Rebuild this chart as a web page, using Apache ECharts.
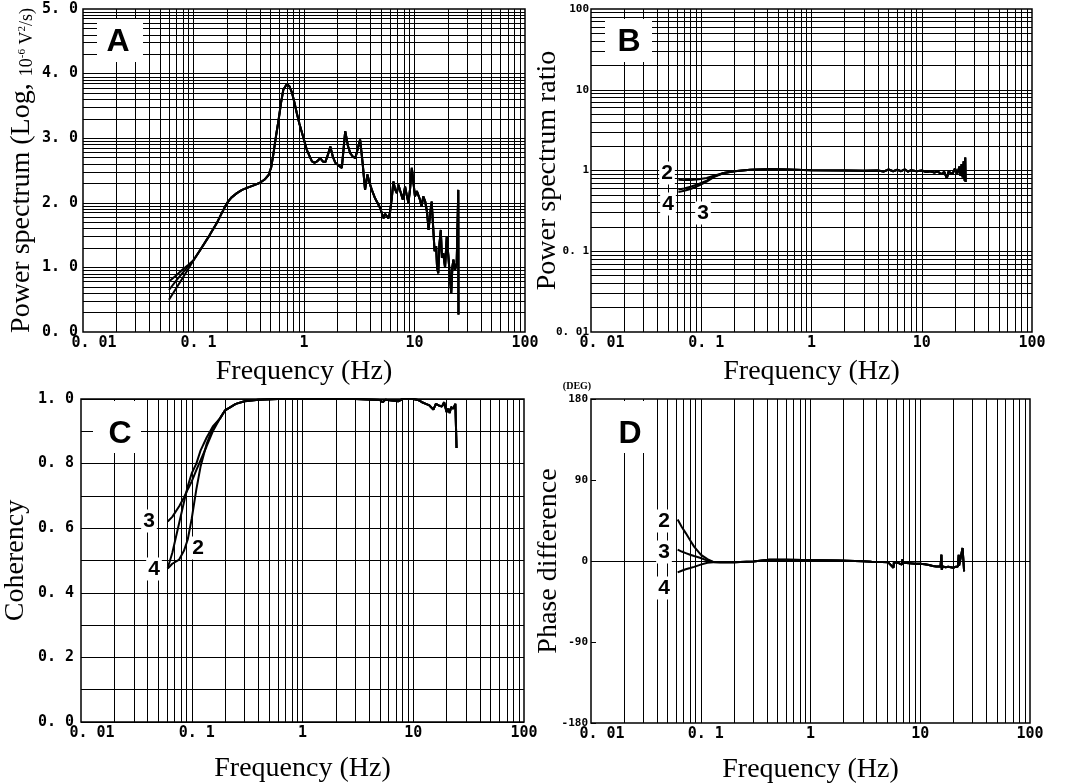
<!DOCTYPE html>
<html><head><meta charset="utf-8">
<script src="https://cdn.jsdelivr.net/npm/echarts@6/dist/echarts.min.js"></script>
<style>html,body{margin:0;padding:0;background:#fff}#c{width:1065px;height:784px}</style>
</head><body><div id="c"></div>
<script>
// ---------------- tick labels ----------------
const freqTickLabels = ['0. 01', '0. 1', '1', '10', '100'];
const aTickLabels = ['0. 0', '1. 0', '2. 0', '3. 0', '4. 0', '5. 0'];
const bTickLabels = ['0. 01', '0. 1', '1', '10', '100'];
const cTickLabels = ['0. 0', '0. 2', '0. 4', '0. 6', '0. 8', '1. 0'];
const dTickLabels = ['-180', '-90', '0', '90', '180'];
const curveNames = ['2', '3', '4'];

// ---------------- Panel A: power spectrum (log10 of 10^-6 V^2/s) ----------------
const aLowFreq = [0.06, 0.07, 0.08, 0.09, 0.1];
const aLowLine1 = [0.78, 0.88, 0.97, 1.04, 1.11];
const aLowLine2 = [0.65, 0.80, 0.92, 1.02, 1.11];
const aLowLine3 = [0.50, 0.68, 0.84, 0.98, 1.11];
const aFreq = [0.115,0.14,0.163,0.18,0.2,0.22,0.247,0.275,0.305,0.35,0.4,0.44,0.478,0.505,0.53,0.56,0.59,0.62,0.65,0.7,0.74,0.78,0.82,0.86,0.91,0.96,1.06,1.18,1.25,1.31,1.4,1.48,1.56,1.65,1.73,1.82,1.92,2.05,2.2,2.36,2.5,2.62,2.75,2.91,3.05,3.22,3.4,3.57,3.75,3.9,4.11,4.4,4.89,5.24,5.42,5.62,5.81,6.0,6.23,6.44,6.7,6.92,7.15,7.41,7.83,8.22,8.5,8.81,9.1,9.46,9.8,10.1,10.5,10.8,11.2,11.6,12.0,12.5,13.0,13.4,13.9,14.3,14.8,15.2,15.7,16.0,16.4,16.8,17.3,17.7,18.2,18.9,19.6,20.2,21.0,21.5,22.0,22.5,23.2,24.1,24.9,25.0];
const aPower = [1.27,1.50,1.69,1.84,1.99,2.08,2.15,2.20,2.23,2.27,2.31,2.36,2.43,2.55,2.77,3.05,3.29,3.55,3.75,3.84,3.80,3.70,3.55,3.39,3.22,3.08,2.82,2.64,2.62,2.64,2.69,2.64,2.63,2.75,2.87,2.72,2.62,2.58,2.54,3.11,2.88,2.77,2.72,2.69,2.82,2.98,2.6,2.20,2.44,2.32,2.20,2.07,1.92,1.76,1.83,1.84,1.76,1.85,2.07,2.33,2.2,2.15,2.28,2.31,2.05,2.25,2.12,2.0,2.2,2.54,2.3,2.10,2.18,2.20,2.05,1.94,2.1,2.02,1.85,1.58,1.85,2.02,1.58,1.25,1.33,1.0,0.91,1.35,1.58,1.15,1.22,1.0,1.48,1.2,0.81,0.6,1.0,1.12,0.95,1.07,2.20,0.27];

// ---------------- Panel B: power spectrum ratio ----------------
const bLowFreq = [0.062, 0.07, 0.08, 0.095, 0.112, 0.13, 0.16];
const bLow2 = [0.77, 0.76, 0.76, 0.78, 0.81, 0.86, 0.93];
const bLow3 = [0.58, 0.60, 0.63, 0.68, 0.75, 0.84, 0.93];
const bLow4 = [0.54, 0.56, 0.59, 0.65, 0.73, 0.83, 0.93];
const bFreq = [0.2,0.278,0.4,0.6,1,2,3,4,4.5,5,5.5,6,6.5,7,7.5,8,9,10,11,12,13,14,15,16,16.9,17.5,18,19,20,21,22,22.5,23,23.5,24,24.5,24.8,25];
const bRatio = [0.98,1.02,1.04,1.03,1.01,1.0,0.99,1.0,0.97,1.03,0.98,1.02,0.98,1.03,0.97,1.01,0.98,1.0,0.96,0.98,0.94,0.97,0.9,0.96,0.8,0.97,1.02,0.9,1.06,0.92,1.12,0.86,1.2,0.82,1.3,0.75,1.45,0.72];

// ---------------- Panel C: coherency ----------------
const cLowFreq = [0.0607, 0.0667, 0.077, 0.085, 0.092, 0.1, 0.11, 0.12, 0.136, 0.155, 0.18];
const cLow2 = [0.475, 0.49, 0.503, 0.53, 0.565, 0.63, 0.72, 0.79, 0.86, 0.91, 0.94];
const cLow3 = [0.621, 0.635, 0.668, 0.695, 0.72, 0.745, 0.78, 0.81, 0.853, 0.90, 0.94];
const cLow4 = [0.477, 0.523, 0.616, 0.68, 0.73, 0.77, 0.80, 0.84, 0.88, 0.915, 0.94];
const cFreq = [0.2,0.25,0.3,0.4,0.6,1,3,5,5.3,5.6,7.3,8,10,11,12,13,14,15.2,16,17,18.2,19,20,20.7,21.3,22,23,24,24.5,24.6];
const cCoh = [0.965,0.985,0.993,0.998,1.0,1.0,1.0,0.997,0.99,0.998,0.993,1.0,1.0,0.997,0.99,0.985,0.98,0.967,0.985,0.98,0.977,0.99,0.96,0.97,0.957,0.975,0.97,0.985,0.985,0.848];

// ---------------- Panel D: phase difference (deg) ----------------
const dLowFreq = [0.0616, 0.067, 0.073, 0.08, 0.087, 0.1, 0.115, 0.13];
const dLow2 = [46, 38, 31, 23, 16, 7, 2, -1];
const dLow3 = [12.6, 10.5, 8.8, 7, 5.5, 3.3, 0.4, -1];
const dLow4 = [-12.6, -10.8, -9.2, -7.8, -6.5, -4, -2, -1.5];
const dFreq = [0.15,0.2,0.3,0.42,0.6,0.86,1.8,3.0,3.6,4.5,5.1,5.7,5.75,6.3,6.8,6.9,7.0,8,9,10,11,12,13,14,15.3,15.6,15.7,16,17,18,19,20,21,22,22.4,22.6,23.5,24.3,25.1];
const dPhase = [-1.5,-1.5,-0.5,1.5,1.5,1,0.5,-0.3,-0.8,-1.2,-1.5,-7.5,-1.5,-2,-4,2,-2,-2.5,-3,-3,-3.5,-4.5,-5.5,-6,-6,7,-9.6,-6,-7,-6.5,-7,-7.5,-6.5,-6,7,-5,-3,14.4,-11.5];

// ---------------- grid-line helpers (log paper) ----------------
const MULT = [1,2,3,4,5,6,7,8,9];
const DECADES = [0.01, 0.1, 1, 10];
function logPaper(key) {
  const out = [];
  DECADES.forEach((d, di) => MULT.forEach(m => { if (!(di === 0 && m === 1)) out.push({[key]: d * m}); }));
  return out;
}
function logUnitPaper(units) { // lines at k + log10(m) on a linear axis of log values
  const out = [];
  for (let k = 0; k < units; k++) MULT.forEach(m => { const v = k + Math.log10(m); if (v > 0) out.push({yAxis: v}); });
  return out;
}
function paper(data) {
  return { silent: true, symbol: ['none','none'], label: {show: false}, animation: false,
    lineStyle: {color: '#000', width: 1, type: 'solid'}, emphasis: {disabled: true}, data: data };
}
function pairs(xs, ys) { return xs.map((x, i) => [x, ys[i]]); }
function curve(gi, xs, ys, name, extra) {
  return Object.assign({ type: 'line', name: name, xAxisIndex: gi, yAxisIndex: gi, data: pairs(xs, ys),
    showSymbol: false, symbol: 'none', silent: true, animation: false, z: 3,
    lineStyle: {color: '#000', width: 2}, itemStyle: {color: '#000'} }, extra || {});
}

const MONO = '"DejaVu Sans Mono", monospace';
const SERIF = '"Liberation Serif", "Times New Roman", serif';
const SANS = '"Liberation Sans", Arial, sans-serif';

function xLabelFmt(v) {
  const i = Math.round(Math.log10(v)) + 2;
  const t = freqTickLabels[i];
  if (i === 0) return '{p1|' + t + '}';
  if (i === 1) return '{p2|' + t + '}';
  return t;
}
const bigLbl = {fontFamily: MONO, fontSize: 15, fontWeight: 'bold', color: '#000'};
const xRich = {
  p1: Object.assign({padding: [0, 0, 0, 22]}, bigLbl),
  p2: Object.assign({padding: [0, 0, 0, 10]}, bigLbl)
};
function xAxisFor(gi, gap) {
  return { type: 'log', logBase: 10, gridIndex: gi, min: 0.01, max: 100,
    axisLine: {show: false}, axisTick: {show: false}, splitLine: {show: false},
    axisLabel: Object.assign({formatter: xLabelFmt, rich: xRich, margin: 4}, bigLbl),
    name: 'Frequency (Hz)', nameLocation: 'middle', nameGap: gap, nameMoveOverlap: false,
    nameTextStyle: {fontFamily: SERIF, fontSize: 28, color: '#000'} };
}
const smallLbl = {fontFamily: MONO, fontSize: 11, fontWeight: 'bold', color: '#000'};

const grids = [
  {left: 83, top: 9, width: 442, height: 323},
  {left: 591, top: 9, width: 441, height: 323},
  {left: 81, top: 399, width: 443, height: 323},
  {left: 591, top: 399, width: 439, height: 324}
].map(g => Object.assign(g, {show: true, borderColor: '#000', borderWidth: 1.5, backgroundColor: 'transparent', containLabel: false, outerBoundsMode: 'none'}));

const yAxes = [
  { type: 'value', gridIndex: 0, min: 0, max: 5, interval: 1,
    axisLine: {show: false}, axisTick: {show: false}, splitLine: {show: false},
    axisLabel: Object.assign({formatter: v => aTickLabels[Math.round(v)], margin: 5}, bigLbl),
    name: '{big|Power spectrum (Log, }{mid|10}{sup|-6}{mid| V}{sup|2}{mid|/s)}',
    nameLocation: 'middle', nameGap: 47, nameMoveOverlap: false,
    nameTextStyle: {rich: {
      big: {fontFamily: SERIF, fontSize: 28, color: '#000'},
      mid: {fontFamily: SERIF, fontSize: 18, color: '#000', verticalAlign: 'bottom'},
      sup: {fontFamily: SERIF, fontSize: 11, color: '#000'}
    }} },
  { type: 'log', logBase: 10, gridIndex: 1, min: 0.01, max: 100,
    axisLine: {show: false}, axisTick: {show: false}, splitLine: {show: false},
    axisLabel: Object.assign({formatter: v => bTickLabels[Math.round(Math.log10(v)) + 2], margin: 2}, smallLbl),
    name: 'Power spectrum ratio', nameLocation: 'middle', nameGap: 29, nameMoveOverlap: false,
    nameTextStyle: {fontFamily: SERIF, fontSize: 28, color: '#000'} },
  { type: 'value', gridIndex: 2, min: 0, max: 1, interval: 0.1,
    axisLine: {show: false}, axisTick: {show: false},
    splitLine: {show: true, lineStyle: {color: '#000', width: 1}},
    axisLabel: Object.assign({formatter: v => { const i = Math.round(v * 10); return i % 2 ? '' : cTickLabels[i / 2]; },
      margin: 7}, bigLbl),
    name: 'Coherency', nameLocation: 'middle', nameGap: 51, nameMoveOverlap: false,
    nameTextStyle: {fontFamily: SERIF, fontSize: 28, color: '#000'} },
  { type: 'value', gridIndex: 3, min: -180, max: 180, interval: 90,
    axisLine: {show: false}, axisTick: {show: true, inside: true, length: 5, lineStyle: {color: '#000'}},
    splitLine: {show: false},
    axisLabel: Object.assign({formatter: v => dTickLabels[Math.round(v / 90) + 2], margin: 3}, smallLbl),
    name: 'Phase difference', nameLocation: 'middle', nameGap: 28, nameMoveOverlap: false,
    nameTextStyle: {fontFamily: SERIF, fontSize: 28, color: '#000'} }
];

const xAxes = [xAxisFor(0, 26), xAxisFor(1, 26), xAxisFor(2, 33), xAxisFor(3, 33)];

const series = [
  // A
  curve(0, aLowFreq.concat(aFreq), aLowLine1.concat(aPower), 'A1',
        {markLine: paper(logPaper('xAxis').concat(logUnitPaper(5)))}),
  curve(0, aLowFreq.concat(aFreq), aLowLine2.concat(aPower), 'A2'),
  curve(0, aLowFreq.concat(aFreq), aLowLine3.concat(aPower), 'A3'),
  // B
  curve(1, bLowFreq.concat(bFreq), bLow2.concat(bRatio), curveNames[0],
        {markLine: paper(logPaper('xAxis').concat(logPaper('yAxis')))}),
  curve(1, bLowFreq.concat(bFreq), bLow3.concat(bRatio), curveNames[1]),
  curve(1, bLowFreq.concat(bFreq), bLow4.concat(bRatio), curveNames[2]),
  // C
  curve(2, cLowFreq.concat(cFreq), cLow2.concat(cCoh), curveNames[0],
        {markLine: paper(logPaper('xAxis'))}),
  curve(2, cLowFreq.concat(cFreq), cLow3.concat(cCoh), curveNames[1]),
  curve(2, cLowFreq.concat(cFreq), cLow4.concat(cCoh), curveNames[2]),
  // D
  curve(3, dLowFreq.concat(dFreq), dLow2.concat(dPhase), curveNames[0],
        {markLine: paper(logPaper('xAxis').concat([{yAxis: 0}]))}),
  curve(3, dLowFreq.concat(dFreq), dLow3.concat(dPhase), curveNames[1]),
  curve(3, dLowFreq.concat(dFreq), dLow4.concat(dPhase), curveNames[2])
];

// panel letters and curve tags (annotations)
function box(x, y, w, h) { return {type: 'rect', z: 100, silent: true, shape: {x: x, y: y, width: w, height: h}, style: {fill: '#fff'}}; }
function txt(t, x, y, font, bg) {
  const s = {text: t, x: x, y: y, font: font, fill: '#000', align: 'center', verticalAlign: 'middle',
             textAlign: 'center', textVerticalAlign: 'middle'};
  if (bg) { s.backgroundColor = '#fff'; s.padding = [1, 2]; }
  return {type: 'text', z: 101, silent: true, style: s};
}
const LETTER = 'bold 32px ' + SANS;
const TAG = 'bold 21px ' + SANS;
const graphic = [
  box(97, 19, 46, 43), txt('A', 118, 42, LETTER),
  box(605, 19, 47, 43), txt('B', 629, 42, LETTER),
  box(93, 401, 48, 52), txt('C', 120, 434, LETTER),
  box(605, 401, 50, 52), txt('D', 630, 434, LETTER),
  txt(curveNames[0], 667, 173, TAG, true), txt(curveNames[2], 668, 204, TAG, true), txt(curveNames[1], 703, 213, TAG, true),
  txt(curveNames[1], 149, 521, TAG, true), txt(curveNames[2], 154, 569, TAG, true), txt(curveNames[0], 198, 548, TAG, true),
  txt(curveNames[0], 664, 521, TAG, true), txt(curveNames[1], 664, 552, TAG, true), txt(curveNames[2], 664, 588, TAG, true),
  txt('(DEG)', 577, 386, 'bold 10px ' + SERIF)
];

const chart = echarts.init(document.getElementById('c'));
chart.setOption({
  animation: false,
  backgroundColor: '#fff',
  grid: grids,
  xAxis: xAxes,
  yAxis: yAxes,
  series: series,
  graphic: graphic
});
</script>
</body></html>
